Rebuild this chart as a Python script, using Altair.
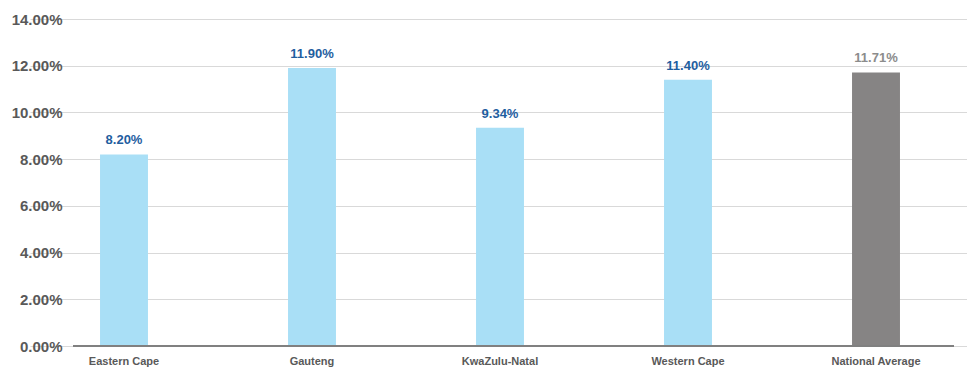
import altair as alt
import pandas as pd

regions = ["Eastern Cape", "Gauteng", "KwaZulu-Natal", "Western Cape", "National Average"]
rates = [0.0820, 0.1190, 0.0934, 0.1140, 0.1171]
kinds = ["Province", "Province", "Province", "Province", "National"]
y_ticks = [0, 0.02, 0.04, 0.06, 0.08, 0.10, 0.12, 0.14]

df = pd.DataFrame({"region": regions, "rate": rates, "kind": kinds})

W, H = 881, 327
FONT = "Liberation Sans"

x = alt.X(
    "region:N",
    sort=regions,
    scale=alt.Scale(range=[-43, 897], paddingInner=0.745, paddingOuter=0.3725),
    axis=alt.Axis(
        title=None, domain=False, ticks=False, labelAngle=0, labelPadding=9,
        labelFont=FONT, labelFontSize=11, labelFontWeight="bold", labelColor="#595959",
        grid=False,
    ),
)
y = alt.Y(
    "rate:Q",
    scale=alt.Scale(domain=[0, 0.14], nice=False),
    axis=alt.Axis(
        title=None, domain=False, ticks=False, values=y_ticks, format=".2%",
        labelPadding=11, labelFont=FONT, labelFontSize=15, labelFontWeight="bold",
        labelColor="#595959", grid=True, gridColor="#D9D9D9", gridWidth=1,
    ),
)

bar_color = alt.Color(
    "kind:N",
    scale=alt.Scale(domain=["Province", "National"], range=["#A9DFF6", "#868484"]),
    legend=None,
)
text_color = alt.Color(
    "kind:N",
    scale=alt.Scale(domain=["Province", "National"], range=["#1F5E9F", "#8C8C8C"]),
    legend=None,
)

bars = alt.Chart(df).mark_bar().encode(x=x, y=y, color=bar_color)
labels = alt.Chart(df).mark_text(
    baseline="bottom", dy=-7, font=FONT, fontSize=13, fontWeight="bold"
).encode(x=x, y=y, text=alt.Text("rate:Q", format=".2%"), color=text_color)

base_line = alt.Chart(pd.DataFrame({"v": [0]})).mark_rule(
    color="#808080", strokeWidth=2
).encode(y=alt.Y("v:Q", scale=alt.Scale(domain=[0, 0.14], nice=False)), x=alt.value(0), x2=alt.value(W))

chart = (
    alt.layer(bars, labels, base_line)
    .resolve_scale(color="independent")
    .properties(
        width=W, height=H,
        autosize=alt.AutoSizeParams(type="none"),
        padding={"left": 73, "top": 19, "right": 13, "bottom": 21},
        background="white",
    )
    .configure_view(stroke=None)
)

chart.save("out.html", embed_options={"renderer": "svg", "actions": False})
